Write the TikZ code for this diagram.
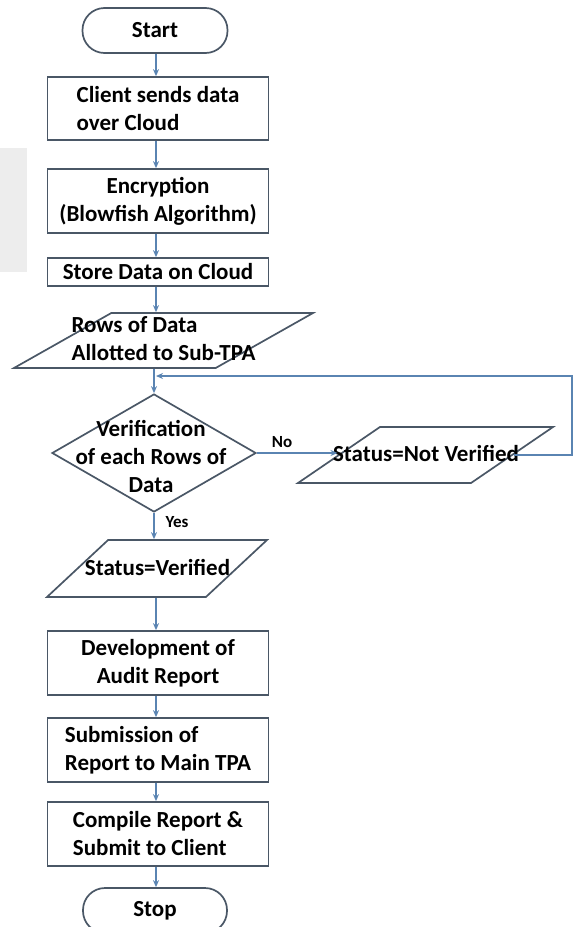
\documentclass[tikz,border=0pt]{standalone}
\usepackage{fontspec}
\setmainfont{Carlito}
\usetikzlibrary{shapes.geometric,arrows.meta}
\definecolor{bord}{HTML}{4A5766}
\definecolor{arr}{HTML}{5A84B2}
\definecolor{wm}{HTML}{EDEDED}
\begin{document}
\begin{tikzpicture}[x=1pt,y=-1pt,
  txt/.style={font=\fontsize{23}{28}\selectfont\bfseries, inner sep=0pt, text=black},
  proc/.style={draw=bord, line width=1.7pt, fill=white, minimum width=221pt, inner sep=0pt, txt},
  term/.style={draw=bord, line width=1.7pt, fill=white, rounded corners=22pt, minimum width=145pt, minimum height=45pt, txt},
  io/.style={draw=bord, line width=1.7pt, fill=white, trapezium, trapezium stretches=true, inner sep=1pt},
  dec/.style={draw=bord, line width=1.7pt, fill=white, diamond, inner sep=1pt},
  flow/.style={draw=arr, line width=1.3pt, -{Stealth[length=7pt,width=6pt]}},
  lbl/.style={font=\fontsize{17}{18}\selectfont\bfseries, inner sep=0pt}
]
\clip (0,0) rectangle (574,927);
\fill[wm] (0,148) rectangle (27,272);
\coordinate (col) at (156,0);
\coordinate (jn) at (156,376);
\coordinate (rt) at (572,0);

\node[term] (start) at (155,30.5) {Start};
\node[proc, minimum height=63pt, align=left] (client) at (158,108.5) {Client sends data\\over Cloud};
\node[proc, minimum height=64pt, align=center] (enc) at (158,201) {Encryption\\(Blowfish Algorithm)};
\node[proc, minimum height=28pt] (store) at (158,272) {Store Data on Cloud};
\node[io, minimum width=299pt, minimum height=55pt, trapezium left angle=47, trapezium right angle=133] (rows) at (163.5,340.5) {};
\node[txt, align=left] (rowst) at (163.5,339) {Rows of Data\\Allotted to Sub-TPA};
\node[dec, minimum width=204pt, minimum height=118pt] (dia) at (154,453) {};
\node[txt, align=center] (diat) at (151,456) {Verification\\of each Rows of\\Data};
\node[io, minimum width=255pt, minimum height=56pt, trapezium left angle=48, trapezium right angle=132] (nv) at (425.5,455) {};
\node[txt] (nvt) at (426,453) {Status=Not Verified};
\node[io, minimum width=220pt, minimum height=57pt, trapezium left angle=58, trapezium right angle=122] (ver) at (157,568.5) {};
\node[txt] (vert) at (157.5,567) {Status=Verified};
\node[proc, minimum height=64pt, align=center] (dev) at (158,663) {Development of\\Audit Report};
\node[proc, minimum height=64pt, align=left] (sub) at (158,750) {Submission of\\Report to Main TPA};
\node[proc, minimum height=64pt, align=left] (comp) at (158,834) {Compile Report \&\\Submit to Client};
\node[term, minimum width=144pt] (stop) at (155,910.5) {Stop};
\node[lbl] (no) at (282,442) {No};
\node[lbl] (yes) at (177,522) {Yes};

\draw[flow] (start.south -| col) -- (client.north -| col);
\draw[flow] (client.south -| col) -- (enc.north -| col);
\draw[flow] (enc.south -| col) -- (store.north -| col);
\draw[flow] (store.south -| col) -- (rows.north -| col);
\draw[flow] (dia.north |- rows.south) -- (dia.north);
\draw[flow] (dia.east) -- (dia.east -| nv.west);
\draw[flow] (dia.south) -- (dia.south |- ver.north);
\draw[flow] (nv.east) -- (nv.east -| rt) -- (rt |- jn) -- (jn);
\draw[flow] (ver.south -| col) -- (dev.north -| col);
\draw[flow] (dev.south -| col) -- (sub.north -| col);
\draw[flow] (sub.south -| col) -- (comp.north -| col);
\draw[flow] (comp.south -| col) -- (stop.north -| col);
\end{tikzpicture}
\end{document}
